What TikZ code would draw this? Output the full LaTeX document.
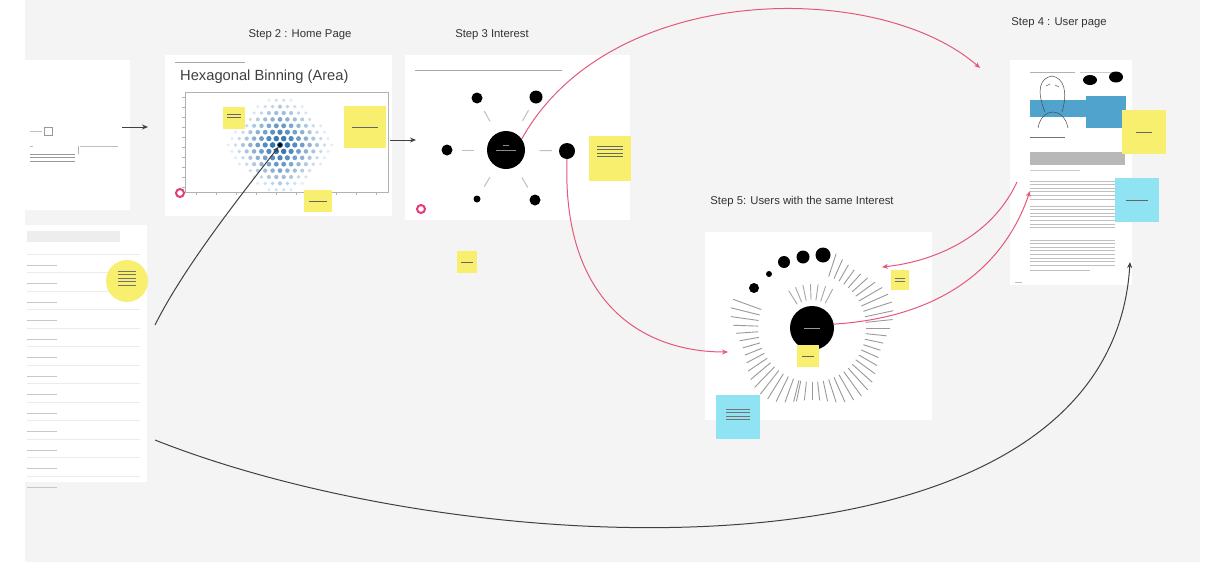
\documentclass[tikz,border=0pt]{standalone}
\usepackage{fontspec}
\setmainfont{Liberation Sans}
\usetikzlibrary{arrows.meta,calc,shapes.geometric}

\definecolor{board}{HTML}{F4F4F4}
\definecolor{sticky}{HTML}{F9EF6E}
\definecolor{stickyblue}{HTML}{8FE3F2}
\definecolor{flowred}{HTML}{E2597A}
\definecolor{ringpink}{HTML}{E33A7C}
\definecolor{hexblue}{HTML}{2C6FB0}
\definecolor{bandblue}{HTML}{4FA3CC}

\tikzset{
  panel/.style={fill=white,draw=none},
  steptitle/.style={font=\fontsize{11.3}{13}\selectfont,text=black!80,inner sep=0pt},
  note/.style={fill=sticky,inner sep=0pt},
  bluenote/.style={fill=stickyblue,inner sep=0pt},
  dot/.style={circle,fill=black,inner sep=0pt},
  faint/.style={black!25,line width=0.9pt},
  flow/.style={flowred,line width=1pt,-{Stealth[length=6pt,width=5pt]}},
  link/.style={black!75,line width=1pt,-{Stealth[length=6pt,width=5pt]}},
  ring/.style={circle,draw=ringpink,line width=2pt,fill=white,minimum size=8pt,inner sep=0pt}
}

% rows of scribbled text: x, y, width, count, colour
\newcommand{\txtlines}[5]{%
  \foreach \k in {1,...,#4}{\draw[#5,line width=0.8pt] (#1,{#2+(\k-1)*3.6}) -- ++(#3,0);}}

\begin{document}
\begin{tikzpicture}[x=1pt,y=-1pt]

  \useasboundingbox (0,0) rectangle (1213,581);
  \fill[white] (0,0) rectangle (1213,581);
  \fill[board] (25,0) rectangle (1200,562);

  % step 1: search panels
  \fill[panel] (25,60) rectangle (130,210);
  \draw[faint] (30,131) -- (42,131);
  \draw[black!40,line width=0.6pt] (44,127) rectangle (52,135);
  \draw[faint] (30,146) -- (33,146);
  \draw[faint] (80,146) -- (118,146);
  \draw[black!30,line width=0.5pt] (78,146) -- (78,154);
  \txtlines{30}{154}{45}{3}{black!40}
  \fill[panel] (25,225) rectangle (147,482);
  \fill[black!7] (27,231) rectangle (120,242);
  \foreach \r in {0,...,12}{
    \draw[black!8,line width=0.5pt] (27,{254+\r*18.5}) -- (140,{254+\r*18.5});
    \draw[black!22,line width=0.8pt] (27,{265+\r*18.5}) -- ++(30,0);
  }
  \node (fnote) [circle,fill=sticky,minimum size=42pt,inner sep=0pt] at (127,281) {};
  \txtlines{118}{271}{18}{5}{black!55}

  % step 2: home page
  \node[steptitle] at (300,35) {Step 2 : Home Page};
  \fill[panel] (165,55) rectangle (392,216);
  \draw[black!35,line width=0.6pt] (175,62) -- (245,62);
  \node[anchor=west,inner sep=0pt,font=\fontsize{14.7}{16}\selectfont,text=black!75] at (180,77) {Hexagonal Binning (Area)};
  \draw[black!30,line width=0.5pt] (185,92) rectangle (388,192);
  \foreach \t in {0,...,9}{
    \draw[black!30,line width=0.5pt] (185,{97+\t*10}) -- (182,{97+\t*10});
    \draw[black!30,line width=0.5pt] ({196+\t*20},192) -- ({196+\t*20},195);
  }
  \foreach \j in {-7,...,7}{
    \foreach \i in {-7,...,7}{
      \pgfmathsetmacro{\hx}{280+\i*7.4+mod(abs(\j),2)*3.7}
      \pgfmathsetmacro{\hy}{145+\j*6.4}
      \pgfmathsetmacro{\hd}{0.6*sqrt((\hx-280)^2+(\hy-145)^2)+0.4*(abs(\hx-280)+abs(\hy-145))}
      \pgfmathtruncatemacro{\hin}{max(12,110-\hd*1.9)}
      \pgfmathsetmacro{\hr}{max(1.4,3.0-\hd*0.025)}
      \ifdim\hd pt<52pt
        \fill[hexblue!\hin] (\hx,\hy) circle[radius=\hr];
      \fi
    }
  }
  \node (hexc) [dot,minimum size=4pt] at (280,145) {};
  \node (n2a) [note,minimum width=22pt,minimum height=22pt] at (234,118) {};
  \txtlines{227}{114}{14}{2}{black!60}
  \node (n2b) [note,minimum width=42pt,minimum height=42pt] at (365,127) {};
  \draw[black!60,line width=0.8pt] (352,127) -- (378,127);
  \node (n2c) [note,minimum width=28pt,minimum height=22pt] at (318,201) {};
  \draw[black!60,line width=0.8pt] (309,201) -- (327,201);
  \node (ring2) [ring] at (180,193) {};

  % step 3: interest
  \node[steptitle] at (492,35) {Step 3 Interest};
  \fill[panel] (405,55) rectangle (630,220);
  \draw[black!35,line width=0.6pt] (415,70) -- (562,70);
  \node (hub3) [dot,minimum size=38pt] at (506,150) {};
  \draw[black!45,line width=0.6pt] (496,150) -- (516,150);
  \draw[black!45,line width=0.6pt] (503,145) -- (509,145);
  \node (s3a) [dot,minimum size=11pt] at (477,98) {};
  \node (s3b) [dot,minimum size=13pt] at (536,97) {};
  \node (s3c) [dot,minimum size=11pt] at (447,150) {};
  \node (s3d) [dot,minimum size=16pt] at (567,151) {};
  \node (s3e) [dot,minimum size=7pt] at (477,199) {};
  \node (s3f) [dot,minimum size=11pt] at (535,200) {};
  \foreach \s in {s3a,s3b,s3c,s3d,s3e,s3f}{
    \draw[black!25,line width=1pt] ($(hub3)!0.55!(\s)$) -- ($(hub3)!0.75!(\s)$);
  }
  \node (n3a) [note,minimum width=42pt,minimum height=45pt] at (610,158) {};
  \txtlines{597}{146}{26}{4}{black!60}
  \node (n3b) [note,minimum width=20pt,minimum height=22pt] at (467,262) {};
  \draw[black!60,line width=0.8pt] (461,262) -- (473,262);
  \node (ring3) [ring] at (421,209) {};

  % step 4: user page
  \node[steptitle] at (1059,23) {Step 4 : User page};
  \fill[panel] (1010,60) rectangle (1132,285);
  \draw[black!30,line width=0.6pt] (1030,72) -- (1075,72);
  \draw[black!20,line width=0.6pt] (1080,72) -- (1120,72);
  \fill[bandblue] (1030,100) rectangle (1086,117);
  \fill[bandblue] (1086,96) rectangle (1126,128);
  \draw[black!70,line width=0.5pt] (1045,112) .. controls (1036,90) and (1040,78) .. (1052,76)
        .. controls (1064,78) and (1068,92) .. (1062,112);
  \draw[black!70,line width=0.5pt] (1038,128) .. controls (1040,116) and (1048,112) .. (1053,112)
        .. controls (1060,112) and (1066,118) .. (1068,128);
  \draw[black!60,line width=0.5pt] (1046,86) -- (1050,84) (1055,85) -- (1059,87);
  \node (b4a) [dot,ellipse,minimum width=14pt,minimum height=10pt] at (1090,80) {};
  \node (b4b) [dot,ellipse,minimum width=14pt,minimum height=11pt] at (1116,77) {};
  \draw[black!55,line width=0.8pt] (1030,137) -- (1065,137);
  \fill[black!28] (1030,152) rectangle (1125,165);
  \draw[black!20,line width=0.7pt] (1030,170) -- (1080,170);
  \txtlines{1030}{181}{85}{6}{black!25}
  \txtlines{1030}{206}{85}{7}{black!25}
  \txtlines{1030}{240}{85}{8}{black!25}
  \draw[black!25,line width=0.7pt] (1030,270) -- (1090,270);
  \draw[black!25,line width=0.7pt] (1015,282) -- (1022,282);
  \node (n4a) [note,minimum width=44pt,minimum height=44pt] at (1144,132) {};
  \draw[black!60,line width=0.8pt] (1136,132) -- (1152,132);
  \node (n4b) [bluenote,minimum width=44pt,minimum height=44pt] at (1137,200) {};
  \draw[black!60,line width=0.8pt] (1126,200) -- (1148,200);
  \coordinate (top4) at (980,68);
  \coordinate (in4a) at (1017,182);
  \coordinate (in4b) at (1030,191);

  % step 5: users with the same interest
  \node[steptitle] at (802,202) {Step 5: Users with the same Interest};
  \fill[panel] (705,232) rectangle (932,420);
  \foreach \a in {-102,-96,...,76,160,166,...,256}{
    \pgfmathsetmacro{\rb}{78+6*sin(5*\a)}
    \draw[black!40,line width=0.9pt] ({812+54*cos(\a)},{328-54*sin(\a)}) -- ({812+\rb*cos(\a)},{328-\rb*sin(\a)});
  }
  \foreach \a in {62,72,...,122}{
    \draw[black!35,line width=0.9pt] ({812+28*cos(\a)},{328-28*sin(\a)}) -- ({812+44*cos(\a)},{328-44*sin(\a)});
  }
  \node (hub5) [dot,minimum size=44pt] at (812,328) {};
  \draw[black!40,line width=0.6pt] (804,328) -- (820,328);
  \node (u5a) [dot,minimum size=10pt] at (754,288) {};
  \node (u5b) [dot,minimum size=6pt] at (769,274) {};
  \node (u5c) [dot,minimum size=12pt] at (784,262) {};
  \node (u5d) [dot,minimum size=13pt] at (803,257) {};
  \node (u5e) [dot,minimum size=15pt] at (823,255) {};
  \node (n5a) [note,minimum width=22pt,minimum height=22pt] at (808,356) {};
  \draw[black!60,line width=0.8pt] (802,356) -- (814,356);
  \node (n5b) [note,minimum width=18pt,minimum height=20pt] at (900,280) {};
  \txtlines{895}{278}{10}{2}{black!55}
  \node (n5c) [bluenote,minimum width=44pt,minimum height=44pt] at (738,417) {};
  \txtlines{726}{409}{24}{4}{black!55}
  \coordinate (in5) at (728,352);
  \coordinate (up5) at (882,267);

  % flow between steps
  \coordinate (out1a) at (122,127);
  \coordinate (in2) at (148,127);
  \coordinate (out2) at (390,140);
  \coordinate (in3) at (416,140);
  \coordinate (out1b) at (155,325);
  \coordinate (out1c) at (155,440);
  \coordinate (in4c) at (1130,262);

  \draw[link] (out1a) -- (in2);
  \draw[link] (out2) -- (in3);
  \draw[link] (out1b) .. controls (185,265) and (245,190) .. (hexc);
  \draw[link] (out1c) .. controls (470,565) and (1110,595) .. (in4c);

  \draw[flow] (hub3.35) .. controls (610,-20) and (880,-20) .. (top4);
  \draw[flow] (s3d.south) .. controls (562,300) and (640,352) .. (in5);
  \draw[flow] (hub5.10) .. controls (960,316) and (1010,250) .. (in4b);
  \draw[flow] (in4a) .. controls (990,240) and (930,262) .. (up5);

\end{tikzpicture}
\end{document}
